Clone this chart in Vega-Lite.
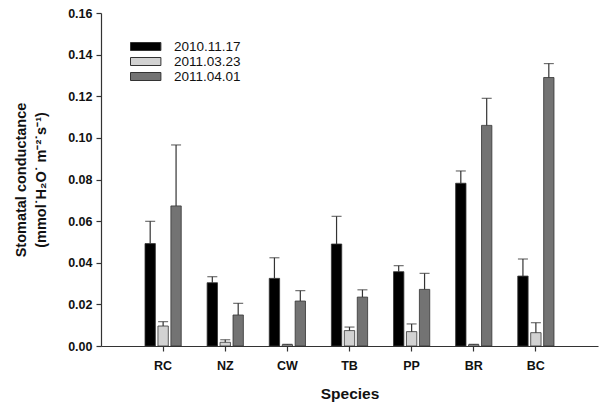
{
  "$schema": "https://vega.github.io/schema/vega-lite/v6.json",
  "width": 497,
  "height": 333,
  "autosize": "none",
  "padding": {"left": 101, "top": 13, "right": 3, "bottom": 56},
  "background": "white",
  "config": {
    "view": {"stroke": null},
    "font": "Liberation Sans",
    "axis": {"grid": false, "domainColor": "#333", "tickColor": "#333", "domainWidth": 1.2, "tickWidth": 1.2, "labelColor": "#111", "titleColor": "#111"}
  },
  "data": {"values": [
    {"species": "RC", "date": "2010.11.17", "v": 0.0492, "e": 0.0599},
    {"species": "RC", "date": "2011.03.23", "v": 0.0096, "e": 0.0117},
    {"species": "RC", "date": "2011.04.01", "v": 0.0673, "e": 0.0966},
    {"species": "NZ", "date": "2010.11.17", "v": 0.0304, "e": 0.0333},
    {"species": "NZ", "date": "2011.03.23", "v": 0.0018, "e": 0.0030},
    {"species": "NZ", "date": "2011.04.01", "v": 0.0149, "e": 0.0205},
    {"species": "CW", "date": "2010.11.17", "v": 0.0325, "e": 0.0424},
    {"species": "CW", "date": "2011.03.23", "v": 0.0006, "e": 0.0008},
    {"species": "CW", "date": "2011.04.01", "v": 0.0216, "e": 0.0266},
    {"species": "TB", "date": "2010.11.17", "v": 0.0490, "e": 0.0623},
    {"species": "TB", "date": "2011.03.23", "v": 0.0074, "e": 0.0091},
    {"species": "TB", "date": "2011.04.01", "v": 0.0235, "e": 0.0270},
    {"species": "PP", "date": "2010.11.17", "v": 0.0357, "e": 0.0386},
    {"species": "PP", "date": "2011.03.23", "v": 0.0069, "e": 0.0106},
    {"species": "PP", "date": "2011.04.01", "v": 0.0272, "e": 0.0349},
    {"species": "BR", "date": "2010.11.17", "v": 0.0782, "e": 0.0841},
    {"species": "BR", "date": "2011.03.23", "v": 0.0006, "e": 0.0008},
    {"species": "BR", "date": "2011.04.01", "v": 0.1060, "e": 0.1190},
    {"species": "BC", "date": "2010.11.17", "v": 0.0336, "e": 0.0418},
    {"species": "BC", "date": "2011.03.23", "v": 0.0064, "e": 0.0112},
    {"species": "BC", "date": "2011.04.01", "v": 0.1290, "e": 0.1357}
  ]},
  "encoding": {
    "x": {
      "field": "species", "type": "nominal", "sort": null,
      "scale": {"paddingInner": 0, "paddingOuter": 0.5},
      "axis": {"title": "Species", "labelAngle": 0, "labelFontSize": 12.5, "labelFontWeight": "bold", "labelPadding": 8, "tickSize": 5, "titleFontSize": 15.5, "titleFontWeight": "bold", "titlePadding": 15}
    },
    "xOffset": {"field": "date", "type": "nominal", "sort": null, "scale": {"paddingInner": 0.2, "paddingOuter": 1.1}}
  },
  "layer": [
    {
      "mark": {"type": "bar", "stroke": "#333", "strokeWidth": 0.8},
      "encoding": {
        "y": {
          "field": "v", "type": "quantitative",
          "scale": {"domain": [0, 0.16], "nice": false},
          "axis": {"values": [0, 0.02, 0.04, 0.06, 0.08, 0.1, 0.12, 0.14, 0.16], "format": ".2f", "labelFontSize": 12.5, "labelFontWeight": "bold", "labelPadding": 4, "tickSize": 5, "title": ["Stomatal conductance", "(mmol˙H₂O˙ m⁻²˙s⁻¹)"], "titleFontSize": 14.5, "titleFontWeight": "bold", "titleLineHeight": 20, "titlePadding": 19}
        },
        "color": {
          "field": "date", "type": "nominal", "sort": null,
          "scale": {"range": ["#000000", "#d2d2d2", "#737373"]},
          "legend": {"title": null, "orient": "none", "legendX": 29, "legendY": 25, "symbolType": "M-1,-0.5H2.8V0.5H-1Z", "symbolSize": 256, "symbolStrokeColor": "#333", "symbolStrokeWidth": 1, "symbolOpacity": 1, "labelFontSize": 13.5, "labelOffset": 27, "labelColor": "#111", "rowPadding": 0}
        }
      }
    },
    {
      "mark": {"type": "rule", "color": "#333", "strokeWidth": 1.2},
      "encoding": {"y": {"field": "v", "type": "quantitative"}, "y2": {"field": "e"}}
    },
    {
      "mark": {"type": "tick", "color": "#333", "thickness": 1.2, "size": 10},
      "encoding": {"y": {"field": "e", "type": "quantitative"}}
    }
  ]
}
